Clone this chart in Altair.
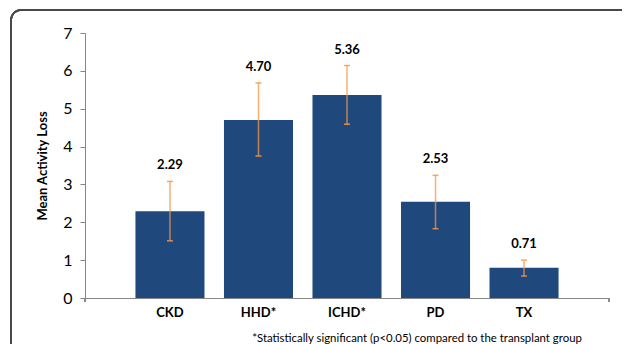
import altair as alt
import pandas as pd

categories = ["CKD", "HHD*", "ICHD*", "PD", "TX"]
means = [2.29, 4.70, 5.36, 2.54, 0.80]
labels = ["2.29", "4.70", "5.36", "2.53", "0.71"]
err_low = [1.51, 3.75, 4.59, 1.83, 0.58]
err_high = [3.08, 5.68, 6.14, 3.24, 1.00]
y_ticks = [0, 1, 2, 3, 4, 5, 6, 7]
footnote = "*Statistically significant (p<0.05) compared to the transplant group"

df = pd.DataFrame({
    "cat": categories, "mean": means, "label": labels,
    "lo": err_low, "hi": err_high,
})

FONT = "Lato"
BAR = "#1F497D"
ORANGE = "#F79646"
AXIS = "#868686"

xscale = alt.Scale(paddingInner=0.22, paddingOuter=0.57)
yscale = alt.Scale(domain=[0, 7], nice=False)

xaxis = alt.Axis(title=None, labelAngle=0, labelFont=FONT, labelFontSize=13,
                 labelFontWeight="bold", labelColor="#000", labelPadding=8,
                 ticks=False, domainColor=AXIS, domainWidth=1)
yaxis = alt.Axis(title="Mean Activity Loss", values=y_ticks, grid=False,
                 labelFont=FONT, labelFontSize=16, labelColor="#000",
                 labelPadding=8, tickSize=5, tickColor=AXIS, domainColor=AXIS,
                 titleFont=FONT, titleFontSize=13, titleFontWeight="bold",
                 titleColor="#000", titlePadding=13, labelOverlap=False)

x = alt.X("cat:N", sort=categories, scale=xscale, axis=xaxis)


def yf(field):
    return alt.Y(field, scale=yscale, axis=yaxis)


base = alt.Chart(df)

frame = base.mark_rect(fillOpacity=0, stroke="#4a4a4a", strokeWidth=1.5,
                       cornerRadius=10, clip=False).encode(
    x=alt.value(-74), x2=alt.value(560), y=alt.value(-23), y2=alt.value(330))

bars = base.mark_bar(color=BAR).encode(x=x, y=yf("mean:Q"))

rule = base.mark_rule(color=ORANGE, opacity=0.75, strokeWidth=1.5).encode(
    x=x, y=yf("lo:Q"), y2="hi:Q")
cap_lo = base.mark_tick(color=ORANGE, opacity=0.85, thickness=1.5, size=6).encode(
    x=x, y=yf("lo:Q"))
cap_hi = base.mark_tick(color=ORANGE, opacity=0.85, thickness=1.5, size=6).encode(
    x=x, y=yf("hi:Q"))

text = base.mark_text(font=FONT, fontSize=13, fontWeight="bold", color="#000",
                      dy=-16, baseline="middle").encode(
    x=x, y=yf("hi:Q"), text="label:N")

note = alt.Chart(pd.DataFrame({"t": [footnote]})).mark_text(
    font=FONT, fontSize=11.4, color="#000", align="center", baseline="middle").encode(
    x=alt.value(332), y=alt.value(306), text="t:N")

tick_l = base.mark_rule(color=AXIS).encode(
    x=alt.value(0), y=alt.value(265), y2=alt.value(269))
tick_r = base.mark_rule(color=AXIS).encode(
    x=alt.value(524), y=alt.value(265), y2=alt.value(269))

chart = alt.layer(frame, bars, rule, cap_lo, cap_hi, text, note, tick_l, tick_r).properties(
    width=524, height=265,
    autosize=alt.AutoSizeParams(type="none"),
    padding={"left": 77, "top": 25, "right": 13, "bottom": 46},
).configure_view(stroke=None)

chart.save("out.html", embed_options={"renderer": "svg", "actions": False})
